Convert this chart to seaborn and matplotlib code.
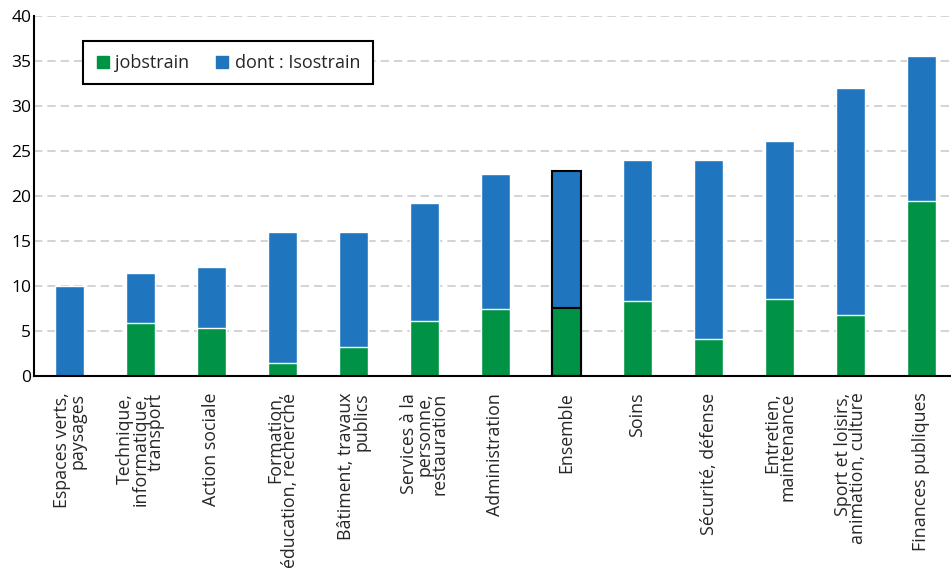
import matplotlib
matplotlib.use("Agg")
import matplotlib.pyplot as plt
import seaborn as sns
import pandas as pd
from matplotlib.lines import Line2D

categories = [
    "Espaces verts,\npaysages",
    "Technique,\ninformatique,\ntransport",
    "Action sociale",
    "Formation,\néducation, recherche",
    "Bâtiment, travaux\npublics",
    "Services à la\npersonne,\nrestauration",
    "Administration",
    "Ensemble",
    "Soins",
    "Sécurité, défense",
    "Entretien,\nmaintenance",
    "Sport et loisirs,\nanimation, culture",
    "Finances publiques",
]
# hauteur totale de la barre (bleu) et partie verte en bas
totals = [10.0, 11.5, 12.1, 16.0, 16.0, 19.2, 22.5, 22.8, 24.0, 24.0, 26.1, 32.0, 35.6]
green_part = [0.0, 5.9, 5.3, 1.4, 3.2, 6.1, 7.4, 7.6, 8.3, 4.1, 8.6, 6.8, 19.5]
yticks = [0, 5, 10, 15, 20, 25, 30, 35, 40]
legend_labels = ["jobstrain", "dont : Isostrain"]

vert = "#009245"
bleu = "#1F75BE"

sns.set_style("white")
plt.rcParams["font.family"] = ["Open Sans", "DejaVu Sans"]

df = pd.DataFrame({"cat": categories, "total": totals, "green": green_part})

fig = plt.figure(figsize=(9.51, 5.74), dpi=100)
ax = fig.add_axes([34 / 951, 198 / 574, 923 / 951, 360 / 574])

sns.barplot(data=df, x="cat", y="total", color=bleu, width=0.4, saturation=1,
            ax=ax, zorder=3)
sns.barplot(data=df, x="cat", y="green", color=vert, width=0.4, saturation=1,
            ax=ax, zorder=4)

# contour noir pour "Ensemble"
idx = categories.index("Ensemble")
n = len(categories)
for p in (ax.patches[idx], ax.patches[n + idx]):
    p.set_edgecolor("black")
    p.set_linewidth(1.5)

ax.set_xlim(-0.5, n - 0.5)
ax.set_ylim(0, 40)
ax.set_yticks(yticks)
ax.set_xlabel("")
ax.set_ylabel("")

ax.yaxis.grid(True, linestyle=(0, (5, 3)), color="#CCCCCC", linewidth=1.2, zorder=0)
ax.set_axisbelow(True)

ax.set_xticks(range(n))
ax.set_xticklabels(categories, rotation=90, ha="center", va="top",
                   multialignment="right", linespacing=0.8, fontsize=12.8)
ax.set_xticks([i + 0.5 for i in range(-1, n)], minor=True)
ax.tick_params(axis="x", which="major", length=0, pad=12)
ax.tick_params(axis="x", which="minor", length=5, width=1.5, color="black", direction="out")
ax.tick_params(axis="y", length=2, width=1.5, color="black", direction="out",
               labelsize=12.5, pad=0)
for lab in ax.get_yticklabels():
    lab.set_color("black")

sns.despine(ax=ax, top=True, right=True)
for s in ("left", "bottom"):
    ax.spines[s].set_color("black")
    ax.spines[s].set_linewidth(1.5)
    ax.spines[s].set_zorder(5)

handles = [
    Line2D([], [], marker="s", linestyle="", markersize=9, color=vert),
    Line2D([], [], marker="s", linestyle="", markersize=9, color=bleu),
]
leg = ax.legend(handles, legend_labels, loc="upper left", bbox_to_anchor=(0.053, 0.93),
                borderaxespad=0, ncol=2, fancybox=False, edgecolor="black",
                framealpha=1, fontsize=13, handlelength=0.8, handletextpad=0.3,
                columnspacing=1.4, borderpad=0.7)
leg.get_frame().set_linewidth(1.5)

plt.savefig("out.png", dpi=100)
plt.close()
